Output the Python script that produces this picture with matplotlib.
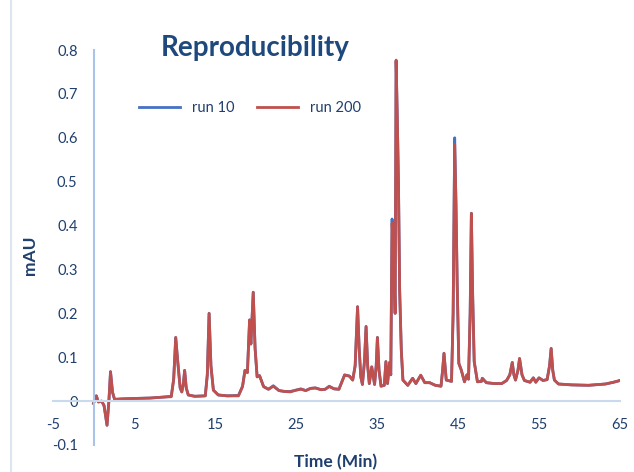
import matplotlib.pyplot as plt
from matplotlib.lines import Line2D

plt.rcParams['font.family'] = ['Lato', 'DejaVu Sans']
plt.rcParams['axes.unicode_minus'] = False

# retention time (min)
time = [0.0, 0.35, 0.6, 1.0, 1.3, 1.67, 1.9, 2.1, 2.35, 2.6, 3.5, 5.0, 7.0, 8.5, 9.6,
        9.9, 10.15, 10.4, 10.7, 10.9, 11.1, 11.25, 11.45, 11.7, 12.5, 13.8, 14.05, 14.27,
        14.5, 14.8, 15.4, 16.5, 17.9, 18.4, 18.7, 19.0, 19.27, 19.43, 19.72, 19.95, 20.2,
        20.5, 21.0, 21.6, 22.2, 22.9, 23.6, 24.3, 25.0, 25.6, 26.2, 26.8, 27.4, 28.1, 28.6,
        29.1, 29.7, 30.3, 30.7, 31.0, 31.6, 32.0, 32.3, 32.6, 32.8, 33.0, 33.2, 33.45,
        33.65, 33.85, 34.05, 34.35, 34.7, 34.9, 35.05, 35.25, 35.5, 35.9, 36.1, 36.3,
        36.55, 36.7, 36.86, 37.05, 37.24, 37.36, 37.5, 37.65, 37.8, 38.0, 38.2, 38.8,
        39.4, 39.8, 40.4, 40.9, 41.5, 42.2, 42.9, 43.1, 43.27, 43.55, 44.2, 44.4, 44.59,
        44.75, 44.9, 45.1, 45.4, 45.8, 46.1, 46.3, 46.5, 46.65, 46.8, 47.0, 47.4, 47.9,
        48.0, 48.5, 49.5, 50.4, 51.0, 51.4, 51.7, 51.9, 52.1, 52.4, 52.6, 52.9, 53.2,
        53.9, 54.3, 54.6, 55.0, 55.5, 56.0, 56.3, 56.5, 56.7, 56.9, 57.4, 59.0, 61.1,
        63.2, 64.2, 65.0]

run200 = [-0.005, 0.012, -0.002, 0.0, -0.01, -0.055, 0.0, 0.067, 0.02, 0.004, 0.005, 0.006, 0.007, 0.009, 0.01,
          0.05, 0.145, 0.09, 0.03, 0.021, 0.04, 0.07, 0.03, 0.014, 0.011, 0.012, 0.06, 0.2,
          0.08, 0.025, 0.014, 0.012, 0.012, 0.033, 0.07, 0.065, 0.185, 0.13, 0.248, 0.12, 0.055,
          0.058, 0.033, 0.027, 0.034, 0.024, 0.022, 0.021, 0.025, 0.027, 0.024, 0.029, 0.03, 0.026, 0.027,
          0.033, 0.028, 0.027, 0.045, 0.059, 0.057, 0.048, 0.08, 0.215, 0.12, 0.055, 0.038, 0.09,
          0.17, 0.08, 0.04, 0.078, 0.038, 0.08, 0.145, 0.07, 0.034, 0.036, 0.09, 0.04,
          0.088, 0.06, 0.405, 0.33, 0.2, 0.777, 0.65, 0.496, 0.25, 0.116, 0.048, 0.036,
          0.052, 0.04, 0.059, 0.042, 0.042, 0.036, 0.034, 0.07, 0.109, 0.048, 0.045, 0.2, 0.585,
          0.45, 0.268, 0.086, 0.071, 0.044, 0.06, 0.05, 0.2, 0.428, 0.25, 0.09, 0.044, 0.045,
          0.052, 0.042, 0.04, 0.04, 0.047, 0.06, 0.088, 0.06, 0.048, 0.07, 0.097, 0.06, 0.047,
          0.043, 0.053, 0.043, 0.053, 0.047, 0.049, 0.08, 0.12, 0.07, 0.048, 0.039, 0.037, 0.036,
          0.039, 0.043, 0.047]

run10 = [-0.005, 0.012, -0.002, 0.0, -0.01, -0.055, 0.0, 0.067, 0.02, 0.004, 0.005, 0.006, 0.007, 0.009, 0.011,
         0.05, 0.145, 0.09, 0.03, 0.021, 0.04, 0.07, 0.03, 0.014, 0.011, 0.012, 0.06, 0.2,
         0.08, 0.025, 0.014, 0.012, 0.013, 0.034, 0.07, 0.065, 0.185, 0.13, 0.248, 0.12, 0.056,
         0.058, 0.033, 0.027, 0.035, 0.024, 0.022, 0.022, 0.025, 0.028, 0.024, 0.029, 0.03, 0.026, 0.027,
         0.034, 0.028, 0.027, 0.046, 0.06, 0.057, 0.048, 0.08, 0.215, 0.12, 0.055, 0.038, 0.09,
         0.17, 0.08, 0.04, 0.078, 0.038, 0.08, 0.145, 0.07, 0.034, 0.036, 0.09, 0.04,
         0.088, 0.06, 0.415, 0.33, 0.2, 0.775, 0.65, 0.496, 0.25, 0.116, 0.048, 0.036,
         0.052, 0.04, 0.059, 0.042, 0.042, 0.036, 0.034, 0.07, 0.109, 0.048, 0.045, 0.2, 0.6,
         0.45, 0.268, 0.086, 0.071, 0.044, 0.06, 0.05, 0.2, 0.428, 0.25, 0.09, 0.044, 0.045,
         0.052, 0.042, 0.04, 0.04, 0.047, 0.06, 0.088, 0.06, 0.048, 0.07, 0.097, 0.06, 0.047,
         0.043, 0.053, 0.043, 0.053, 0.047, 0.049, 0.08, 0.12, 0.07, 0.048, 0.039, 0.037, 0.036,
         0.039, 0.043, 0.047]

xticks = [-5, 5, 15, 25, 35, 45, 55, 65]
yticks = [-0.1, 0, 0.1, 0.2, 0.3, 0.4, 0.5, 0.6, 0.7, 0.8]
ytick_labels = ['-0.1', '0', '0.1', '0.2', '0.3', '0.4', '0.5', '0.6', '0.7', '0.8']

txt = '#1F3F6E'
axis_col = '#C9D9EE'

fig = plt.figure(figsize=(6.34, 4.72), dpi=100)
ax = fig.add_axes([53/634, 1-445/472, 567/634, 395/472])

ax.plot(time, run10, color='#4472C4', linewidth=2, label='run 10')
ax.plot(time, run200, color='#C0504D', linewidth=2, label='run 200')

ax.set_xlim(-5, 65)
ax.set_ylim(-0.1, 0.8)
ax.set_xticks(xticks)
ax.set_yticks(yticks)
ax.set_yticklabels(ytick_labels)

ax.spines['top'].set_visible(False)
ax.spines['right'].set_visible(False)
ax.spines['bottom'].set_position(('data', 0))
ax.spines['left'].set_position(('data', 0))
ax.spines['bottom'].set_color(axis_col)
ax.spines['left'].set_color('#A9C4E8')
ax.spines['bottom'].set_linewidth(1.5)
ax.spines['left'].set_linewidth(1.5)
ax.tick_params(axis='x', length=0, pad=12, labelsize=10.5, labelcolor=txt)
ax.tick_params(axis='y', length=0, pad=11.5, labelsize=10.5, labelcolor=txt)

ax.legend(loc='center', bbox_to_anchor=(250/634, 1-108/472), bbox_transform=fig.transFigure,
          ncol=2, frameon=False, handlelength=2.8, handletextpad=0.8, columnspacing=1.6,
          fontsize=10.5, labelcolor=txt)

fig.text(255/634, 1-48/472, 'Reproducibility', ha='center', va='center',
         fontsize=20, fontweight='bold', color='#1F497D')
fig.text(30/634, 1-255/472, 'mAU', rotation=90, ha='center', va='center',
         fontsize=12.5, fontweight='bold', color=txt)
fig.text(336/634, 1-462/472, 'Time (Min)', ha='center', va='center',
         fontsize=12.5, fontweight='bold', color=txt)

# light frame line on the left edge
fig.add_artist(Line2D([11/634, 11/634], [0, 1], transform=fig.transFigure,
                      color='#DCE6F2', linewidth=1.5))

fig.savefig('out.png', dpi=100)
